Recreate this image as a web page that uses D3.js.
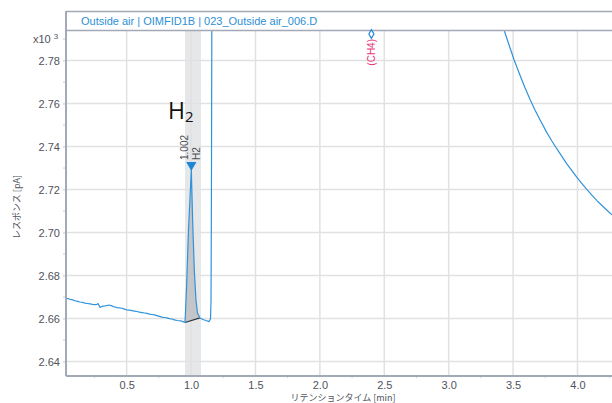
<!DOCTYPE html>
<html>
<head>
<meta charset="utf-8">
<script src="https://cdn.jsdelivr.net/npm/d3@7/dist/d3.min.js"></script>
<style>
  html, body { margin: 0; padding: 0; background: #fff; }
  svg { display: block; font-family: "Liberation Sans", Arial, sans-serif; }
</style>
</head>
<body>
<svg id="chart" width="612" height="403"></svg>
<script>
// FID signal, retention time [min] vs response [x10^3 pA]
const times = [
  0.029, 0.045, 0.060, 0.080, 0.099, 0.118, 0.137, 0.157, 0.176, 0.196,
  0.215, 0.235, 0.254, 0.270, 0.277, 0.285, 0.293, 0.305, 0.316, 0.332,
  0.347, 0.362, 0.370, 0.385, 0.394, 0.410, 0.425, 0.444, 0.463, 0.482,
  0.502, 0.521, 0.541, 0.560, 0.580, 0.600, 0.619, 0.638, 0.658, 0.677,
  0.696, 0.716, 0.735, 0.755, 0.774, 0.794, 0.813, 0.832, 0.852, 0.871,
  0.891, 0.906, 0.922, 0.937, 0.953, 0.964, 0.980, 1.002, 1.012, 1.025,
  1.038, 1.050, 1.069, 1.092, 1.116, 1.139, 1.151, 1.155, 1.158, 1.162,
  1.170, 2.400, 3.350, 3.398, 3.430, 3.470, 3.507, 3.550, 3.590, 3.631,
  3.670, 3.710, 3.761, 3.800, 3.839, 3.880, 3.916, 3.955, 3.994, 4.033,
  4.072, 4.110, 4.149, 4.188, 4.227, 4.268
];
const response = [
  2.6694, 2.6693, 2.6690, 2.6687, 2.6683, 2.6680, 2.6677, 2.6675, 2.6672, 2.6670,
  2.6668, 2.6666, 2.6665, 2.6666, 2.6670, 2.6662, 2.6652, 2.6656, 2.6658, 2.6659,
  2.6661, 2.6663, 2.6662, 2.6659, 2.6656, 2.6654, 2.6651, 2.6650, 2.6648, 2.6644,
  2.6640, 2.6639, 2.6637, 2.6635, 2.6633, 2.6630, 2.6628, 2.6626, 2.6624, 2.6621,
  2.6619, 2.6617, 2.6614, 2.6610, 2.6607, 2.6605, 2.6603, 2.6600, 2.6598, 2.6594,
  2.6591, 2.6590, 2.6589, 2.6586, 2.6582, 2.6733, 2.7012, 2.7291, 2.7058, 2.6826,
  2.6686, 2.6626, 2.6603, 2.6596, 2.6591, 2.6586, 2.6598, 2.6686, 2.7151, 2.8200,
  3.0000, 6.0000, 2.8150, 2.7998, 2.7942, 2.7870, 2.7805, 2.7737, 2.7677, 2.7620,
  2.7570, 2.7523, 2.7466, 2.7427, 2.7390, 2.7353, 2.7321, 2.7289, 2.7258, 2.7229,
  2.7201, 2.7175, 2.7150, 2.7127, 2.7105, 2.7083
];

// integrated H2 peak: start/end of the baseline and the marked apex
const peakStart = [0.953, 2.6582];
const peakEnd = [1.069, 2.6603];
const peakWindow = [0.953, 1.077];
const peakApex = [1.002, 2.7291];
const peakLabels = ["1.002", "H2"];
const expectedName = "(CH4)";
const expectedTime = 2.400;

const xTicks = [0.5, 1.0, 1.5, 2.0, 2.5, 3.0, 3.5, 4.0];
const xMinorTicks = [0.25, 0.75, 1.25, 1.75, 2.25, 2.75, 3.25, 3.75, 4.25];
const yTicks = [2.64, 2.66, 2.68, 2.70, 2.72, 2.74, 2.76, 2.78];
const yMinorTicks = [2.65, 2.67, 2.69, 2.71, 2.73, 2.75, 2.77, 2.79];

const title = "Outside air | OIMFID1B | 023_Outside air_006.D";
const xTitle = "リテンションタイム [min]";
const yTitle = "レスポンス [pA]";

const svg = d3.select("#chart");
const L = 66, R = 612, T = 30, B = 376;

const x = d3.scaleLinear().domain([0.029, 4.268]).range([L, R]);
const y = d3.scaleLinear().domain([2.6333, 2.7942]).range([B, T]);

const axisColor = "#a3a9b6";
const gridColor = "#e1e1e3";
const textColor = "#50535c";
const traceColor = "#3093da";

svg.append("defs").append("clipPath").attr("id", "plotClip")
  .append("rect").attr("x", L).attr("y", T).attr("width", R - L).attr("height", B - T);

// peak window band
svg.append("rect")
  .attr("x", x(peakWindow[0])).attr("y", T)
  .attr("width", x(peakWindow[1]) - x(peakWindow[0])).attr("height", B - T)
  .attr("fill", "#e6e7e9");

// grid
const grid = svg.append("g");
grid.selectAll("line.vx").data(xTicks).join("line")
  .attr("x1", d => x(d)).attr("x2", d => x(d)).attr("y1", T).attr("y2", B)
  .attr("stroke", gridColor).attr("stroke-width", 1.5);
grid.selectAll("line.hy").data(yTicks).join("line")
  .attr("class", "hy")
  .attr("x1", L - 3).attr("x2", R).attr("y1", d => y(d)).attr("y2", d => y(d))
  .attr("stroke", gridColor).attr("stroke-width", 1.5);

// axes
const xAxis = d3.axisBottom(x).tickValues(xTicks).tickFormat(d3.format(".1f")).tickSize(0).tickPadding(5);
const gx = svg.append("g").attr("transform", `translate(0,${B})`).call(xAxis);
gx.select(".domain").remove();
gx.selectAll("text").attr("fill", textColor).attr("font-size", 11)
  .attr("font-family", "Liberation Sans, Arial, sans-serif");

const yAxis = d3.axisLeft(y).tickValues(yTicks).tickFormat(d3.format(".2f")).tickSize(3).tickPadding(3);
const gy = svg.append("g").attr("transform", `translate(${L},0)`).call(yAxis);
gy.select(".domain").remove();
gy.selectAll("line").attr("stroke", gridColor).attr("stroke-width", 1.5);
gy.selectAll("text").attr("fill", textColor).attr("font-size", 11)
  .attr("font-family", "Liberation Sans, Arial, sans-serif");

// minor ticks
svg.append("g").selectAll("line").data(xMinorTicks.filter(d => x(d) < R)).join("line")
  .attr("x1", d => x(d)).attr("x2", d => x(d)).attr("y1", B).attr("y2", B + 2)
  .attr("stroke", "#c8ccd4").attr("stroke-width", 1);
svg.append("g").selectAll("line").data(yMinorTicks).join("line")
  .attr("x1", L - 3).attr("x2", L).attr("y1", d => y(d)).attr("y2", d => y(d))
  .attr("stroke", "#c8ccd4").attr("stroke-width", 1);

// trace data
const pts = times.map((t, i) => [t, response[i]]);
const plot = svg.append("g").attr("clip-path", "url(#plotClip)");

// integrated peak area
const peakPts = pts.filter(p => p[0] >= peakStart[0] && p[0] <= peakEnd[0]);
plot.append("path")
  .attr("d", d3.line().x(d => x(d[0])).y(d => y(d[1]))(peakPts) + "Z")
  .attr("fill", "#c3c5c8").attr("stroke", "none");
plot.append("line")
  .attr("x1", x(peakStart[0])).attr("y1", y(peakStart[1]))
  .attr("x2", x(peakEnd[0])).attr("y2", y(peakEnd[1]))
  .attr("stroke", "#30343a").attr("stroke-width", 1.2);

plot.append("path")
  .datum(pts)
  .attr("d", d3.line().x(d => x(d[0])).y(d => y(d[1])))
  .attr("fill", "none").attr("stroke", traceColor).attr("stroke-width", 1.2)
  .attr("stroke-linejoin", "round");

// plot frame: left + bottom axis lines
svg.append("line").attr("x1", L).attr("x2", L).attr("y1", 11).attr("y2", B)
  .attr("stroke", axisColor).attr("stroke-width", 2);
svg.append("line").attr("x1", L).attr("x2", R).attr("y1", B).attr("y2", B)
  .attr("stroke", axisColor).attr("stroke-width", 2);

// header box
svg.append("line").attr("x1", L).attr("x2", R).attr("y1", 11.5).attr("y2", 11.5)
  .attr("stroke", axisColor).attr("stroke-width", 1.5);
svg.append("line").attr("x1", L).attr("x2", R).attr("y1", 30.5).attr("y2", 30.5)
  .attr("stroke", axisColor).attr("stroke-width", 1.5);
svg.append("text").attr("x", 81).attr("y", 24.5)
  .attr("fill", "#2d8fd5").attr("font-size", 11).text(title);

// exponent label
const ex = svg.append("text").attr("x", 33).attr("y", 42.5).attr("fill", textColor).attr("font-size", 11);
ex.append("tspan").text("x10 ");
ex.append("tspan").attr("font-size", 8).attr("dy", -4).text("3");

// axis titles
svg.append("text").attr("x", 343).attr("y", 401).attr("text-anchor", "middle")
  .attr("fill", textColor).attr("font-size", 9)
  .attr("font-family", "'Noto Sans CJK JP', sans-serif").text(xTitle);
svg.append("text").attr("transform", `translate(20,207) rotate(-90)`).attr("text-anchor", "middle")
  .attr("fill", textColor).attr("font-size", 9)
  .attr("font-family", "'Noto Sans CJK JP', sans-serif").text(yTitle);

// peak marker and labels
const ax = x(peakApex[0]), ay = y(peakApex[1]);
svg.append("path")
  .attr("d", d3.symbol().type(d3.symbolTriangle).size(45)())
  .attr("transform", `translate(${ax},${ay - 5}) rotate(180)`)
  .attr("fill", "#1d86d6");
svg.append("text").attr("transform", `translate(${ax - 3},${ay - 10}) rotate(-90)`)
  .attr("fill", "#4a4d55").attr("font-size", 10).text(peakLabels[0]);
svg.append("text").attr("transform", `translate(${ax + 9},${ay - 10}) rotate(-90)`)
  .attr("fill", "#4a4d55").attr("font-size", 10).text(peakLabels[1]);

// compound name
const h2 = svg.append("text").attr("x", 168).attr("y", 119).attr("fill", "#111")
  .attr("font-family", "'Open Sans', sans-serif").attr("font-size", 23);
h2.append("tspan").text("H");
h2.append("tspan").attr("font-size", 15).attr("dy", 3).text("2");

// expected but not identified CH4
const cx = x(expectedTime);
svg.append("path")
  .attr("d", d3.symbol().type(d3.symbolDiamond).size(22)())
  .attr("transform", `translate(${cx},${34})`)
  .attr("fill", "#fff").attr("stroke", "#1d86d6").attr("stroke-width", 1.2);
svg.append("text").attr("transform", `translate(${cx + 3.5},${39}) rotate(-90)`)
  .attr("text-anchor", "end").attr("fill", "#e8327a").attr("font-size", 10).text(expectedName);
</script>
</body>
</html>
